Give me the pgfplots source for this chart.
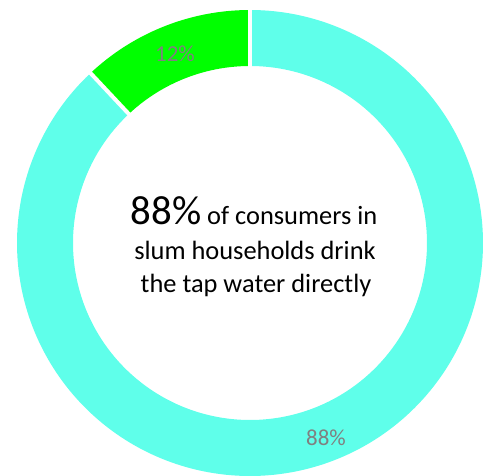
\documentclass[border=0pt]{standalone}
\usepackage{pgfplots}
\pgfplotsset{compat=1.18}
\usepackage{fontspec}
\setmainfont{Carlito}
\definecolor{cyanslice}{HTML}{5FFFEA}
\definecolor{greenslice}{HTML}{00FF00}
\definecolor{labelgray}{HTML}{808080}
\begin{document}
\begin{tikzpicture}
\begin{axis}[
  scale only axis, width=487bp, height=476bp,
  xmin=0, xmax=487, ymin=0, ymax=476,
  axis lines=none, clip=false,
]
% shares: 12% (green) from 90 deg counter-clockwise, 88% (cyan) the rest
% green: 90 -> 90+0.12*360 = 133.2 ; cyan: 133.2 -> 450
\addplot[greenslice, line width=56bp, line cap=butt, line join=round,
  domain=90:133.2, samples=60, variable=\t, no markers]
  ({250+205*cos(\t)},{233+205*sin(\t)});
\addplot[cyanslice, line width=56bp, line cap=butt, line join=round,
  domain=133.2:450, samples=400, variable=\t, no markers]
  ({250+205*cos(\t)},{233+205*sin(\t)});
% white separators
\addplot[white, line width=4bp, no markers] coordinates {(250,403) (250,474)};
\addplot[white, line width=4bp, no markers] coordinates {(133.6,356.9) (84.3,409.5)};
% slice labels
\node[labelgray, inner sep=0pt, font=\fontsize{23}{27}\selectfont] at (axis cs:175,422) {12\%};
\node[labelgray, inner sep=0pt, font=\fontsize{23}{27}\selectfont] at (axis cs:326,38.5) {88\%};
% centre text
\node[anchor=base, inner sep=0pt, font=\fontsize{26.5}{30}\selectfont] at (axis cs:254,251) {{\fontsize{41}{45}\selectfont 88\%} of consumers in};
\node[anchor=base, inner sep=0pt, font=\fontsize{26.5}{30}\selectfont] at (axis cs:255,216) {slum households drink};
\node[anchor=base, inner sep=0pt, font=\fontsize{26.5}{30}\selectfont] at (axis cs:256,183) {the tap water directly};
\end{axis}
\pgfresetboundingbox
\path[use as bounding box] (current axis.south west) rectangle (current axis.north east);
\end{tikzpicture}
\end{document}
